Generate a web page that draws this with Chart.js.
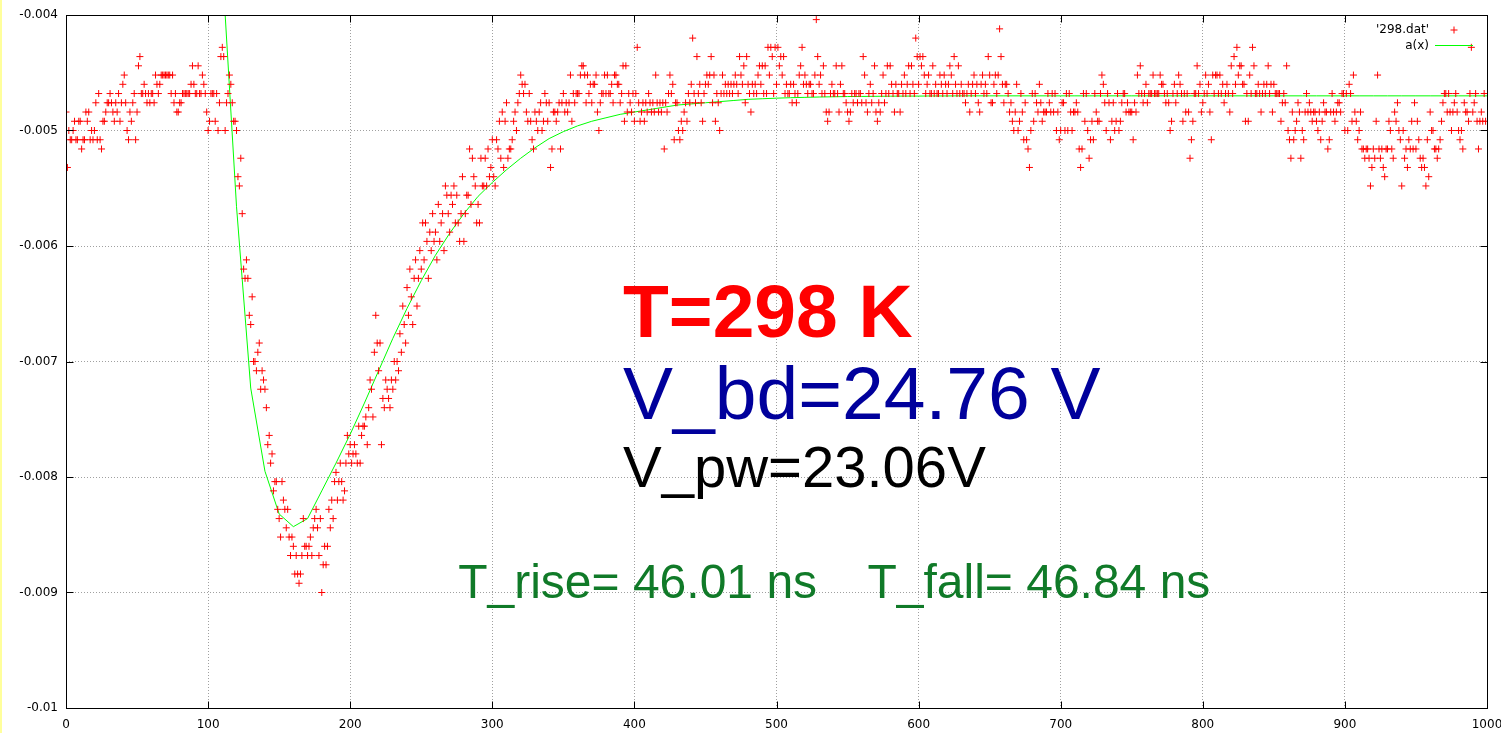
<!DOCTYPE html>
<html>
<head>
<meta charset="utf-8">
<script src="https://cdn.jsdelivr.net/npm/chart.js@4.4.0/dist/chart.umd.min.js"></script>
<style>
  html, body { margin: 0; padding: 0; background: #fff; }
  #wrap { position: relative; width: 1501px; height: 733px; }
  #edge { position: absolute; left: 0; top: 0; width: 2px; height: 733px; background: #ffff9c; }
</style>
</head>
<body>
<div id="wrap">
  <canvas id="myChart" width="1501" height="733"></canvas>
  <div id="edge"></div>
</div>
<script>
// '298.dat' - one sample per ns, volts
const nsPerSample = 1;
const volts0 = [
  -0.00484, -0.00532, -0.005, -0.00508, -0.00508, -0.005, -0.00492, -0.00508, -0.00508, -0.00492,
  -0.00492, -0.00516, -0.00508, -0.00508, -0.00484, -0.00492, -0.00484, -0.00508, -0.005, -0.00508,
  -0.005, -0.00476, -0.00508, -0.00468, -0.00508, -0.00516, -0.00492, -0.00492, -0.00484, -0.00476,
  -0.00476, -0.00468, -0.00476, -0.00484, -0.00492, -0.00476, -0.00484, -0.00468, -0.00492, -0.00476,
  -0.0046, -0.00452, -0.00476, -0.005, -0.00508, -0.00484, -0.00492, -0.00476, -0.00468, -0.00508,
  -0.00484, -0.00444, -0.00436, -0.00468, -0.00468, -0.0046, -0.00468, -0.00476, -0.00468, -0.00476,
  -0.00468, -0.00468, -0.00476, -0.00452, -0.0046, -0.00468, -0.0046, -0.00452, -0.00452, -0.00452,
  -0.00452, -0.00452, -0.00452, -0.00452, -0.00468, -0.00452, -0.00476, -0.00468, -0.00484, -0.00484,
  -0.00476, -0.00476, -0.00468, -0.00468, -0.00468, -0.00468, -0.00468, -0.00468, -0.0046, -0.00444,
  -0.0046, -0.00468, -0.00468, -0.00444, -0.00468, -0.00468, -0.00452, -0.0046, -0.00468, -0.00484,
  -0.005, -0.00492, -0.00468, -0.00468, -0.00468, -0.00492, -0.00468, -0.005, -0.00476, -0.00436,
  -0.00428, -0.00436, -0.005, -0.00476, -0.00468, -0.00452, -0.0046, -0.00476, -0.00492, -0.00492,
  -0.005, -0.0054, -0.00548, -0.00524, -0.00572, -0.0062, -0.00628, -0.00612, -0.00628, -0.0066,
  -0.00668, -0.00644, -0.007, -0.007, -0.00708, -0.00692, -0.00684, -0.00724, -0.00708, -0.00716,
  -0.00724, -0.0074, -0.00772, -0.00764, -0.00788, -0.0078, -0.00812, -0.00804, -0.00804, -0.00828,
  -0.00836, -0.00852, -0.00804, -0.0082, -0.00828, -0.00844, -0.00828, -0.00852, -0.00868, -0.00852,
  -0.0086, -0.00884, -0.00868, -0.00884, -0.00892, -0.00884, -0.00868, -0.00836, -0.0086, -0.0086,
  -0.00868, -0.0086, -0.00852, -0.00868, -0.00844, -0.00836, -0.00828, -0.00844, -0.00868, -0.00836,
  -0.009, -0.00876, -0.0086, -0.00876, -0.0086, -0.00828, -0.00844, -0.0082, -0.00836, -0.00804,
  -0.00796, -0.0082, -0.00804, -0.00788, -0.00804, -0.0082, -0.00812, -0.00788, -0.00764, -0.0078
];
const volts200 = [
  -0.00772, -0.00788, -0.0078, -0.00772, -0.0078, -0.00788, -0.00756, -0.00788, -0.00764, -0.00756,
  -0.00756, -0.00748, -0.00772, -0.0074, -0.00716, -0.00724, -0.00748, -0.00692, -0.0066, -0.00684,
  -0.00708, -0.00684, -0.00772, -0.00732, -0.0074, -0.00716, -0.00724, -0.00732, -0.0074, -0.00716,
  -0.00724, -0.007, -0.00716, -0.007, -0.00708, -0.00676, -0.00692, -0.00652, -0.00668, -0.00684,
  -0.00636, -0.0066, -0.0062, -0.00644, -0.00668, -0.00628, -0.00612, -0.00652, -0.00628, -0.00604,
  -0.0062, -0.0058, -0.00612, -0.0058, -0.00596, -0.00628, -0.00588, -0.00604, -0.00572, -0.00596,
  -0.00588, -0.00612, -0.00564, -0.00596, -0.0058, -0.00572, -0.00604, -0.00548, -0.00556, -0.00572,
  -0.00588, -0.00556, -0.00564, -0.00548, -0.0058, -0.00556, -0.0058, -0.00596, -0.00572, -0.0054,
  -0.00596, -0.00572, -0.00556, -0.00556, -0.00516, -0.00564, -0.00524, -0.0054, -0.00548, -0.0058,
  -0.00564, -0.0058, -0.00524, -0.00548, -0.00548, -0.00524, -0.00548, -0.00516, -0.0054, -0.00532,
  -0.00508, -0.0054, -0.00548, -0.00508, -0.00516, -0.00492, -0.00524, -0.00484, -0.00532, -0.00492,
  -0.00476, -0.00524, -0.00516, -0.00516, -0.00508, -0.00492, -0.00484, -0.005, -0.00476, -0.00468,
  -0.00452, -0.0046, -0.00468, -0.0046, -0.00484, -0.00492, -0.00468, -0.00492, -0.00508, -0.00516,
  -0.00484, -0.00492, -0.005, -0.00484, -0.00476, -0.005, -0.00492, -0.00468, -0.00476, -0.00492,
  -0.00476, -0.00532, -0.00516, -0.00484, -0.00484, -0.00492, -0.00484, -0.00476, -0.00516, -0.00476,
  -0.00468, -0.00484, -0.00476, -0.00484, -0.00476, -0.00452, -0.00492, -0.00468, -0.00476, -0.00468,
  -0.00468, -0.00468, -0.00452, -0.00444, -0.00444, -0.00452, -0.00476, -0.00452, -0.00468, -0.0046,
  -0.00476, -0.0046, -0.0046, -0.00452, -0.00484, -0.005, -0.00476, -0.00468, -0.00468, -0.00452,
  -0.00468, -0.00452, -0.00468, -0.00468, -0.0046, -0.00476, -0.00452, -0.00452, -0.0046, -0.0046,
  -0.00476, -0.00468, -0.00444, -0.00492, -0.00444, -0.00484, -0.00468, -0.00476, -0.00484, -0.00468
];
const volts400 = [
  -0.00492, -0.00468, -0.00428, -0.00476, -0.00492, -0.00484, -0.00476, -0.00492, -0.00476, -0.00484,
  -0.00468, -0.00476, -0.00484, -0.00476, -0.00484, -0.00452, -0.00476, -0.00484, -0.00476, -0.00484,
  -0.00476, -0.00516, -0.00476, -0.00484, -0.00468, -0.00452, -0.00468, -0.0046, -0.00508, -0.00476,
  -0.00476, -0.005, -0.00508, -0.00492, -0.005, -0.00484, -0.00476, -0.00492, -0.00468, -0.00476,
  -0.0046, -0.0042, -0.00468, -0.00476, -0.00436, -0.00468, -0.0046, -0.00476, -0.00492, -0.00468,
  -0.0046, -0.00452, -0.0046, -0.00452, -0.00436, -0.00476, -0.00452, -0.00492, -0.00468, -0.00476,
  -0.005, -0.00468, -0.00452, -0.00468, -0.0046, -0.00468, -0.0046, -0.00468, -0.0046, -0.00468,
  -0.0046, -0.00452, -0.0046, -0.00468, -0.00436, -0.00452, -0.0046, -0.00444, -0.00476, -0.00436,
  -0.0046, -0.00468, -0.00484, -0.0046, -0.00468, -0.0046, -0.00468, -0.00452, -0.00444, -0.0046,
  -0.00444, -0.00468, -0.00444, -0.00468, -0.00428, -0.00452, -0.00428, -0.00436, -0.00468, -0.00428,
  -0.0046, -0.00428, -0.00444, -0.00436, -0.00452, -0.00436, -0.00468, -0.0046, -0.00468, -0.00468,
  -0.0046, -0.00476, -0.0046, -0.00468, -0.00476, -0.00468, -0.00452, -0.00444, -0.00428, -0.0046,
  -0.00452, -0.0046, -0.00468, -0.0046, -0.0046, -0.00468, -0.00468, -0.00452, -0.00404, -0.00436,
  -0.0046, -0.00452, -0.00468, -0.00444, -0.00468, -0.00484, -0.00492, -0.00484, -0.00468, -0.0046,
  -0.00468, -0.00468, -0.00444, -0.00468, -0.00484, -0.0046, -0.00444, -0.00468, -0.00468, -0.00476,
  -0.00484, -0.00492, -0.00484, -0.00468, -0.00476, -0.00468, -0.00468, -0.00476, -0.00468, -0.00468,
  -0.00476, -0.00436, -0.00452, -0.00476, -0.00484, -0.00468, -0.0046, -0.00476, -0.00468, -0.00444,
  -0.00484, -0.00492, -0.00476, -0.00484, -0.00468, -0.00452, -0.00476, -0.00468, -0.00444, -0.00468,
  -0.00444, -0.0046, -0.00468, -0.00484, -0.0046, -0.00468, -0.00468, -0.00484, -0.0046, -0.00468,
  -0.00452, -0.00468, -0.0046, -0.00444, -0.00468, -0.00444, -0.0046, -0.00468, -0.0042, -0.00436
];
const volts600 = [
  -0.0046, -0.00436, -0.00444, -0.00436, -0.00452, -0.00468, -0.0046, -0.00452, -0.00468, -0.00468,
  -0.00444, -0.00468, -0.0046, -0.00468, -0.00468, -0.00452, -0.0046, -0.00468, -0.00452, -0.0046,
  -0.00468, -0.0046, -0.00444, -0.00452, -0.00468, -0.00436, -0.0046, -0.00468, -0.00444, -0.00468,
  -0.0046, -0.00468, -0.00468, -0.00476, -0.00468, -0.0046, -0.00484, -0.00468, -0.0046, -0.00452,
  -0.00468, -0.0046, -0.00476, -0.00484, -0.0046, -0.00452, -0.00468, -0.0046, -0.00468, -0.00436,
  -0.00452, -0.00476, -0.00476, -0.0046, -0.00452, -0.00468, -0.00452, -0.00412, -0.00436, -0.0046,
  -0.00476, -0.0046, -0.0046, -0.00468, -0.00484, -0.00476, -0.00492, -0.005, -0.00484, -0.0046,
  -0.005, -0.00492, -0.00468, -0.00484, -0.00508, -0.00476, -0.00508, -0.00516, -0.00532, -0.005,
  -0.00468, -0.00492, -0.00468, -0.00476, -0.00484, -0.0046, -0.00476, -0.00492, -0.00484, -0.00484,
  -0.00484, -0.00468, -0.00476, -0.00484, -0.00468, -0.00484, -0.00468, -0.005, -0.00484, -0.00508,
  -0.005, -0.00476, -0.00476, -0.005, -0.00468, -0.005, -0.00468, -0.00484, -0.005, -0.00484,
  -0.00484, -0.00476, -0.00484, -0.00516, -0.00532, -0.00516, -0.00468, -0.00492, -0.00468, -0.005,
  -0.00524, -0.00508, -0.00492, -0.00508, -0.00468, -0.00484, -0.00492, -0.00492, -0.00468, -0.00452,
  -0.0046, -0.00476, -0.005, -0.00468, -0.00476, -0.00508, -0.00492, -0.00476, -0.005, -0.00492,
  -0.00468, -0.005, -0.00492, -0.00476, -0.00468, -0.00468, -0.00484, -0.00476, -0.00484, -0.00484,
  -0.00484, -0.00508, -0.00476, -0.00484, -0.00452, -0.00468, -0.00444, -0.00468, -0.00476, -0.00468,
  -0.0046, -0.00476, -0.00468, -0.00468, -0.00468, -0.00452, -0.00468, -0.00468, -0.00468, -0.00468,
  -0.00452, -0.0046, -0.0046, -0.00468, -0.00476, -0.00468, -0.00476, -0.005, -0.00492, -0.00468,
  -0.0046, -0.00476, -0.00468, -0.00452, -0.0046, -0.00468, -0.00492, -0.00468, -0.00484, -0.00468,
  -0.00484, -0.00524, -0.00508, -0.00492, -0.00468, -0.00468, -0.00444, -0.00468, -0.0046, -0.00484
];
const volts800 = [
  -0.00476, -0.00468, -0.00452, -0.00468, -0.0046, -0.00484, -0.00508, -0.00452, -0.00468, -0.00452,
  -0.00452, -0.00468, -0.00452, -0.00468, -0.0046, -0.00476, -0.00468, -0.0046, -0.00468, -0.00484,
  -0.00444, -0.00468, -0.00436, -0.0046, -0.00428, -0.00452, -0.00444, -0.00444, -0.0046, -0.0046,
  -0.00492, -0.00468, -0.00492, -0.00452, -0.00468, -0.00428, -0.00444, -0.00468, -0.00468, -0.0046,
  -0.00468, -0.00484, -0.00468, -0.0046, -0.00468, -0.0046, -0.00444, -0.00468, -0.0046, -0.00484,
  -0.0046, -0.00468, -0.00468, -0.00468, -0.00468, -0.00492, -0.00476, -0.00468, -0.00476, -0.00444,
  -0.005, -0.00508, -0.00524, -0.00484, -0.00508, -0.005, -0.00492, -0.00476, -0.00484, -0.00524,
  -0.005, -0.00508, -0.00484, -0.00468, -0.00484, -0.00476, -0.00484, -0.00492, -0.00484, -0.00484,
  -0.00492, -0.005, -0.00484, -0.00508, -0.00492, -0.00476, -0.00484, -0.00484, -0.00516, -0.00508,
  -0.00484, -0.00468, -0.00484, -0.00492, -0.00484, -0.00476, -0.00476, -0.00484, -0.00468, -0.00468,
  -0.005, -0.00468, -0.005, -0.0046, -0.00468, -0.00492, -0.00452, -0.00484, -0.00492, -0.00508,
  -0.005, -0.00484, -0.00516, -0.00516, -0.00524, -0.00516, -0.00516, -0.00524, -0.00548, -0.00532,
  -0.00516, -0.00524, -0.00492, -0.00452, -0.00516, -0.00524, -0.00516, -0.00532, -0.0054, -0.00516,
  -0.00516, -0.00492, -0.005, -0.00516, -0.00524, -0.00484, -0.00492, -0.00476, -0.005, -0.00508,
  -0.00548, -0.005, -0.00524, -0.00516, -0.00532, -0.00508, -0.00516, -0.00492, -0.00516, -0.00476,
  -0.00516, -0.00492, -0.00508, -0.00524, -0.00532, -0.00524, -0.00532, -0.00548, -0.00508, -0.0054,
  -0.00484, -0.005, -0.005, -0.00516, -0.00516, -0.00524, -0.00516, -0.00508, -0.00492, -0.00476,
  -0.00468, -0.00468, -0.00484, -0.00468, -0.00484, -0.005, -0.00484, -0.00476, -0.00468, -0.00484,
  -0.005, -0.00508, -0.005, -0.00516, -0.00476, -0.00484, -0.00484, -0.00492, -0.00468, -0.00428,
  -0.00484, -0.00476, -0.00468, -0.00492, -0.00516, -0.00492, -0.00484, -0.00492, -0.00468, -0.00492
];

// a(x) fit, sampled every 10 ns from 110 ns
const fitStartNs = 110;
const fitStepNs = 10;
const fitVolts = [
  -0.00358, -0.00566, -0.00723, -0.00795, -0.00832, -0.00843, -0.00836, -0.00812, -0.00788, -0.00763,
  -0.00736, -0.00708, -0.0068, -0.00654, -0.0063, -0.00608, -0.00589, -0.00572, -0.00557, -0.00545,
  -0.00534, -0.00524, -0.00515, -0.00507, -0.00501, -0.00496, -0.00492, -0.00489, -0.00486, -0.00484,
  -0.00482, -0.0048, -0.00478, -0.00477, -0.00476, -0.00475, -0.00474, -0.00473, -0.004725, -0.00472,
  -0.004716, -0.004713, -0.00471, -0.004708, -0.004706, -0.004705, -0.004704, -0.004703, -0.004702, -0.004702,
  -0.004701, -0.004701, -0.0047, -0.0047, -0.0047, -0.0047, -0.0047, -0.0047, -0.0047, -0.0047,
  -0.0047, -0.0047, -0.0047, -0.0047, -0.0047, -0.0047, -0.0047, -0.0047, -0.0047, -0.0047,
  -0.0047, -0.0047, -0.0047, -0.0047, -0.0047, -0.0047, -0.0047, -0.0047, -0.0047, -0.0047,
  -0.0047, -0.0047, -0.0047, -0.0047, -0.0047, -0.0047, -0.0047, -0.0047, -0.0047, -0.0047
];

const xTicks = [0, 100, 200, 300, 400, 500, 600, 700, 800, 900, 1000];
const yTicks = [-0.01, -0.009, -0.008, -0.007, -0.006, -0.005, -0.004];

const notes = [
  { text: 'T=298 K', x: 392, y: -0.006788, font: 'bold 75px "Liberation Sans"', color: '#ff0000' },
  { text: 'V_bd=24.76 V', x: 392, y: -0.007496, font: '75px "Liberation Sans"', color: '#00009c' },
  { text: 'V_pw=23.06V', x: 392, y: -0.008084, font: '58px "Liberation Sans"', color: '#000000' },
  { text: 'T_rise= 46.01 ns', x: 276, y: -0.009048, font: '48px "Liberation Sans"', color: '#107a28' },
  { text: 'T_fall= 46.84 ns', x: 564, y: -0.009048, font: '48px "Liberation Sans"', color: '#107a28' }
];

const volts = [...volts0, ...volts200, ...volts400, ...volts600, ...volts800];
const points = volts.map((v, i) => ({ x: i * nsPerSample, y: v }));
const fitPoints = fitVolts.map((v, i) => ({ x: fitStartNs + i * fitStepNs, y: v }));

// gnuplot style border box with inward tics on all sides
const frame = {
  id: 'frame',
  afterDraw(chart) {
    const { ctx, chartArea: a, scales } = chart;
    const L = Math.floor(a.left) + 0.5, R = Math.floor(a.right) + 0.5;
    const T = Math.floor(a.top) + 0.5, B = Math.floor(a.bottom) + 0.5;
    ctx.save();
    ctx.strokeStyle = '#000';
    ctx.lineWidth = 1;
    ctx.beginPath();
    xTicks.forEach(t => {
      const px = Math.round(scales.x.getPixelForValue(t)) + 0.5;
      ctx.moveTo(px, B); ctx.lineTo(px, B - 7);
      ctx.moveTo(px, T); ctx.lineTo(px, T + 7);
    });
    yTicks.forEach(t => {
      const py = Math.round(scales.y.getPixelForValue(t)) + 0.5;
      ctx.moveTo(L, py); ctx.lineTo(L + 7, py);
      ctx.moveTo(R, py); ctx.lineTo(R - 7, py);
    });
    ctx.stroke();
    ctx.strokeRect(L, T, R - L, B - T);

    // key
    ctx.font = '12px "DejaVu Sans"';
    ctx.fillStyle = '#000';
    ctx.textAlign = 'right';
    ctx.textBaseline = 'middle';
    ctx.fillText("'298.dat'", 1429, 30);
    ctx.fillText('a(x)', 1429, 46);
    ctx.strokeStyle = '#ff0000';
    ctx.beginPath();
    ctx.moveTo(1450.5, 30); ctx.lineTo(1457.5, 30);
    ctx.moveTo(1454, 26.5); ctx.lineTo(1454, 33.5);
    ctx.stroke();
    ctx.strokeStyle = '#00ff00';
    ctx.beginPath();
    ctx.moveTo(1435, 45.5); ctx.lineTo(1473, 45.5);
    ctx.stroke();

    // labels
    ctx.textAlign = 'left';
    ctx.textBaseline = 'alphabetic';
    notes.forEach(n => {
      ctx.font = n.font;
      ctx.fillStyle = n.color;
      ctx.fillText(n.text, scales.x.getPixelForValue(n.x), scales.y.getPixelForValue(n.y));
    });
    ctx.restore();
  }
};

const ctx = document.getElementById('myChart');
new Chart(ctx, {
  type: 'scatter',
  data: {
    datasets: [{
      label: "'298.dat'",
      data: points,
      showLine: false,
      pointStyle: 'cross',
      pointRadius: 3.5,
      pointHoverRadius: 3.5,
      borderColor: '#ff0000',
      backgroundColor: '#ff0000',
      borderWidth: 1
    }, {
      label: 'a(x)',
      data: fitPoints,
      showLine: true,
      pointRadius: 0,
      borderColor: '#00ff00',
      borderWidth: 1,
      tension: 0
    }]
  },
  options: {
    responsive: false,
    animation: false,
    events: [],
    layout: { padding: { top: 15, right: 14, left: 0, bottom: 0 } },
    plugins: { legend: { display: false }, tooltip: { enabled: false } },
    scales: {
      x: {
        type: 'linear',
        min: 0,
        max: 1000,
        afterBuildTicks: s => { s.ticks = xTicks.map(v => ({ value: v })); },
        ticks: { font: { family: 'DejaVu Sans', size: 12 }, color: '#000', padding: 10, maxRotation: 0, callback: v => String(v) },
        grid: { color: '#a0a0a0', drawTicks: false, lineWidth: 1 },
        border: { display: false, dash: [1, 2] },
        afterFit: s => { s.height = 25; s.paddingLeft = 0; s.paddingRight = 0; }
      },
      y: {
        type: 'linear',
        min: -0.01,
        max: -0.004,
        afterBuildTicks: s => { s.ticks = yTicks.map(v => ({ value: v })); },
        ticks: { font: { family: 'DejaVu Sans', size: 12 }, color: '#000', padding: 8, callback: v => String(v) },
        grid: { color: '#a0a0a0', drawTicks: false, lineWidth: 1 },
        border: { display: false, dash: [1, 2] },
        afterFit: s => { s.width = 66; s.paddingTop = 0; s.paddingBottom = 0; }
      }
    }
  },
  plugins: [frame]
});
</script>
</body>
</html>
